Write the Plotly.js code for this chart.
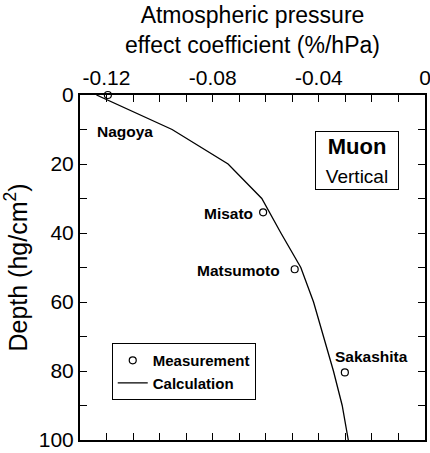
<!DOCTYPE html>
<html>
<head>
<meta charset="utf-8">
<script src="https://cdn.plot.ly/plotly-3.0.1.min.js"></script>
<style>html,body{margin:0;padding:0;background:#fff;}#chart{width:430px;height:453px;}</style>
</head>
<body>
<div id="chart"></div>
<script>
// ---- data ----
var calcDepth = [0, 10, 20, 30, 40, 50, 60, 70, 80, 90, 100];
var calcCoef = [-0.1238, -0.0953, -0.0742, -0.0615, -0.0543, -0.0468, -0.0420, -0.0382, -0.0345, -0.0312, -0.0289];

var siteNames = ['Nagoya', 'Misato', 'Matsumoto', 'Sakashita'];
var measDepth = [0, 34, 50.5, 80.4];
var measCoef = [-0.1195, -0.0610, -0.0491, -0.0302];

var xTickVals = [-0.12, -0.11, -0.10, -0.09, -0.08, -0.07, -0.06, -0.05, -0.04, -0.03, -0.02, -0.01, 0];
var xTickText = ['-0.12', '', '', '', '-0.08', '', '', '', '-0.04', '', '', '', '0'];
var yTickVals = [0, 10, 20, 30, 40, 50, 60, 70, 80, 90, 100];
var yTickText = ['0', '', '20', '', '40', '', '60', '', '80', '', '100'];

// ---- label placement (styling, not data) ----
var labelPlace = [
  {xanchor: 'left',  xshift: -13, yshift: -36},
  {xanchor: 'right', xshift: -8,  yshift: -1},
  {xanchor: 'right', xshift: -13, yshift: -1},
  {xanchor: 'left',  xshift: -12, yshift: 16}
];

var FONT = 'Liberation Sans, Arial, Helvetica, sans-serif';

var traces = [
  {
    x: calcCoef, y: calcDepth, mode: 'lines', name: 'Calculation',
    line: {color: '#000', width: 1.3}
  },
  {
    x: measCoef, y: measDepth, mode: 'markers', name: 'Measurement',
    marker: {symbol: 'circle', size: 7, color: '#fff', line: {color: '#000', width: 1.2}},
    cliponaxis: false
  }
];

var annotations = siteNames.map(function (s, i) {
  var p = labelPlace[i];
  return {
    x: measCoef[i], y: measDepth[i], xref: 'x', yref: 'y',
    text: '<b>' + s + '</b>', showarrow: false, xanchor: p.xanchor, yanchor: 'middle',
    xshift: p.xshift, yshift: p.yshift,
    font: {family: FONT, size: 15.5, color: '#000'}
  };
});
annotations.push({
  x: 0.803, y: 0.81, xref: 'paper', yref: 'paper',
  text: '<b>Muon</b><br><span style="font-size:19px">Vertical</span>', showarrow: false,
  xanchor: 'center', yanchor: 'middle', align: 'center', valign: 'middle',
  width: 82, height: 57, borderpad: 0, bordercolor: '#000', borderwidth: 1,
  font: {family: FONT, size: 22, color: '#000'}
});

var axisCommon = {
  showline: true, linecolor: '#000', linewidth: 2, mirror: 'allticks',
  ticks: 'inside', ticklen: 7, tickwidth: 1, tickcolor: '#000', layer: 'above traces',
  showgrid: false, zeroline: false, tickmode: 'array', ticklabeloverflow: 'allow',
  tickfont: {family: FONT, size: 21, color: '#000'}
};

var layout = {
  width: 430, height: 453,
  margin: {l: 80, r: 5, t: 95, b: 13},
  paper_bgcolor: '#fff', plot_bgcolor: 'rgba(0,0,0,0)',
  font: {family: FONT, color: '#000'},
  showlegend: true,
  xaxis: Object.assign({}, axisCommon, {
    side: 'top', range: [-0.13, 0], tickvals: xTickVals, ticktext: xTickText,
    title: {text: 'Atmospheric pressure<br>effect coefficient (%/hPa)', font: {family: FONT, size: 23, color: '#000'}, standoff: 6}
  }),
  yaxis: Object.assign({}, axisCommon, {
    range: [100, 0], tickvals: yTickVals, ticktext: yTickText,
    title: {text: 'Depth (hg/cm<sup>2</sup>)', font: {family: FONT, size: 25, color: '#000'}, standoff: 6}
  }),
  legend: {
    x: 0.092, y: 0.281, xanchor: 'left', yanchor: 'top', traceorder: 'reversed',
    bordercolor: '#000', borderwidth: 1, bgcolor: 'rgba(0,0,0,0)',
    font: {family: FONT, size: 15, color: '#000', weight: 'bold'}
  },
  annotations: annotations
};

Plotly.newPlot('chart', traces, layout, {displayModeBar: false});
</script>
</body>
</html>
